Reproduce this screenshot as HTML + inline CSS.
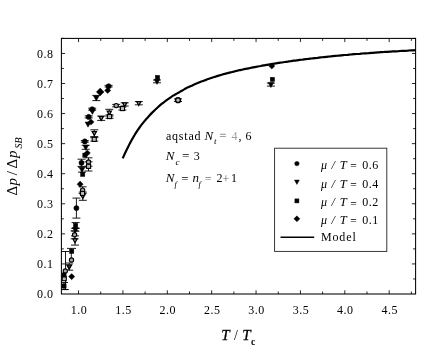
<!DOCTYPE html>
<html><head><meta charset="utf-8"><title>chart</title>
<style>html,body{margin:0;padding:0;background:#fff;overflow:hidden;width:436px;height:352px;}svg{display:block;}text{font-family:"Liberation Serif",serif;fill:#000;}</style>
</head><body>
<svg width="436" height="352" viewBox="0 0 436 352" style="will-change:transform">
<rect x="0" y="0" width="436" height="352" fill="#fff"/>
<path d="M78.55 294.0v-3.7 M78.55 38.4v3.7 M100.74 294.0v-2.5 M100.74 38.4v2.5 M122.92 294.0v-3.7 M122.92 38.4v3.7 M145.11 294.0v-2.5 M145.11 38.4v2.5 M167.30 294.0v-3.7 M167.30 38.4v3.7 M189.49 294.0v-2.5 M189.49 38.4v2.5 M211.68 294.0v-3.7 M211.68 38.4v3.7 M233.86 294.0v-2.5 M233.86 38.4v2.5 M256.05 294.0v-3.7 M256.05 38.4v3.7 M278.24 294.0v-2.5 M278.24 38.4v2.5 M300.43 294.0v-3.7 M300.43 38.4v3.7 M322.61 294.0v-2.5 M322.61 38.4v2.5 M344.80 294.0v-3.7 M344.80 38.4v3.7 M366.99 294.0v-2.5 M366.99 38.4v2.5 M389.18 294.0v-3.7 M389.18 38.4v3.7 M411.36 294.0v-2.5 M411.36 38.4v2.5 M61.4 278.96h2.5 M415.6 278.96h-2.5 M61.4 263.93h3.7 M415.6 263.93h-3.7 M61.4 248.89h2.5 M415.6 248.89h-2.5 M61.4 233.86h3.7 M415.6 233.86h-3.7 M61.4 218.82h2.5 M415.6 218.82h-2.5 M61.4 203.79h3.7 M415.6 203.79h-3.7 M61.4 188.75h2.5 M415.6 188.75h-2.5 M61.4 173.72h3.7 M415.6 173.72h-3.7 M61.4 158.69h2.5 M415.6 158.69h-2.5 M61.4 143.65h3.7 M415.6 143.65h-3.7 M61.4 128.62h2.5 M415.6 128.62h-2.5 M61.4 113.58h3.7 M415.6 113.58h-3.7 M61.4 98.54h2.5 M415.6 98.54h-2.5 M61.4 83.51h3.7 M415.6 83.51h-3.7 M61.4 68.47h2.5 M415.6 68.47h-2.5 M61.4 53.44h3.7 M415.6 53.44h-3.7 M61.4 38.40h2.5 M415.6 38.40h-2.5" stroke="#000" stroke-width="0.85" fill="none"/>
<rect x="61.4" y="38.4" width="354.20000000000005" height="255.6" fill="none" stroke="#000" stroke-width="1.05"/>
<text x="53.4" y="298.4" font-size="12" letter-spacing="0.5" text-anchor="end">0.0</text>
<text x="53.4" y="268.3" font-size="12" letter-spacing="0.5" text-anchor="end">0.1</text>
<text x="53.4" y="238.3" font-size="12" letter-spacing="0.5" text-anchor="end">0.2</text>
<text x="53.4" y="208.2" font-size="12" letter-spacing="0.5" text-anchor="end">0.3</text>
<text x="53.4" y="178.1" font-size="12" letter-spacing="0.5" text-anchor="end">0.4</text>
<text x="53.4" y="148.1" font-size="12" letter-spacing="0.5" text-anchor="end">0.5</text>
<text x="53.4" y="118.0" font-size="12" letter-spacing="0.5" text-anchor="end">0.6</text>
<text x="53.4" y="87.9" font-size="12" letter-spacing="0.5" text-anchor="end">0.7</text>
<text x="53.4" y="57.8" font-size="12" letter-spacing="0.5" text-anchor="end">0.8</text>
<text x="79.0" y="313.8" font-size="12" letter-spacing="0.5" text-anchor="middle">1.0</text>
<text x="123.4" y="313.8" font-size="12" letter-spacing="0.5" text-anchor="middle">1.5</text>
<text x="167.8" y="313.8" font-size="12" letter-spacing="0.5" text-anchor="middle">2.0</text>
<text x="212.2" y="313.8" font-size="12" letter-spacing="0.5" text-anchor="middle">2.5</text>
<text x="256.6" y="313.8" font-size="12" letter-spacing="0.5" text-anchor="middle">3.0</text>
<text x="300.9" y="313.8" font-size="12" letter-spacing="0.5" text-anchor="middle">3.5</text>
<text x="345.3" y="313.8" font-size="12" letter-spacing="0.5" text-anchor="middle">4.0</text>
<text x="389.7" y="313.8" font-size="12" letter-spacing="0.5" text-anchor="middle">4.5</text>
<text y="340" font-size="15"><tspan x="221.2" font-style="italic" stroke="#000" stroke-width="0.3">T</tspan><tspan x="233.9" font-size="14">/</tspan><tspan x="242.2" font-style="italic" stroke="#000" stroke-width="0.3">T</tspan><tspan x="251.0" font-size="9.6" dy="4.8" font-weight="bold">c</tspan></text>
<text transform="translate(17.2,195.6) rotate(-90)" font-size="15"><tspan x="0">&#916;</tspan><tspan x="10.2" font-style="italic">p</tspan><tspan x="20.4">/</tspan><tspan x="27">&#916;</tspan><tspan x="37.6" font-style="italic">p</tspan><tspan x="47" font-size="10" dy="5.2" font-style="italic">SB</tspan></text>
<path d="M122.7 158.4C123.2 157.3 124.7 153.9 125.7 151.8C126.7 149.7 127.7 147.7 128.7 145.7C129.7 143.8 130.7 141.8 131.7 140.0C132.7 138.2 133.7 136.4 134.7 134.8C135.7 133.1 136.7 131.6 137.7 130.1C138.7 128.7 139.7 127.3 140.7 125.9C141.7 124.6 142.7 123.3 143.7 122.1C144.7 120.9 145.7 119.7 146.7 118.6C147.7 117.4 148.7 116.3 149.7 115.2C150.7 114.1 151.7 113.1 152.7 112.1C153.7 111.1 154.7 110.1 155.7 109.2C156.7 108.3 157.7 107.4 158.7 106.5C159.7 105.6 160.7 104.8 161.7 103.9C162.7 103.1 163.7 102.3 164.7 101.6C165.7 100.8 166.7 100.1 167.7 99.4C168.7 98.7 169.7 98.0 170.7 97.3C171.7 96.6 172.7 96.0 173.7 95.4C174.7 94.8 175.7 94.2 176.7 93.6C177.7 93.0 178.7 92.4 179.7 91.9C180.7 91.3 181.7 90.7 182.7 90.2C183.7 89.6 184.7 89.1 185.7 88.5C186.7 88.0 187.7 87.5 188.7 87.1C189.7 86.6 190.7 86.1 191.7 85.7C192.7 85.2 193.7 84.8 194.7 84.3C195.7 83.9 196.7 83.5 197.7 83.1C198.7 82.6 199.7 82.2 200.7 81.8C201.7 81.4 202.7 81.1 203.7 80.7C204.7 80.3 205.7 79.9 206.7 79.6C207.7 79.2 208.7 78.9 209.7 78.5C210.7 78.2 211.7 77.8 212.7 77.5C213.7 77.2 214.7 76.9 215.7 76.6C216.7 76.2 217.7 75.9 218.7 75.6C219.7 75.3 220.7 75.0 221.7 74.7C222.7 74.4 223.7 74.1 224.7 73.9C225.7 73.6 226.7 73.3 227.7 73.1C228.7 72.8 229.7 72.5 230.7 72.3C231.7 72.1 232.7 71.8 233.7 71.6C234.7 71.3 235.7 71.1 236.7 70.9C237.7 70.6 238.7 70.4 239.7 70.2C240.7 70.0 241.7 69.7 242.7 69.5C243.7 69.3 244.7 69.1 245.7 68.9C246.7 68.7 247.7 68.5 248.7 68.3C249.7 68.1 250.7 67.9 251.7 67.7C252.7 67.5 253.7 67.3 254.7 67.1C255.7 66.9 256.7 66.7 257.7 66.5C258.7 66.3 259.7 66.1 260.7 66.0C261.7 65.8 262.7 65.6 263.7 65.4C264.7 65.2 265.7 65.1 266.7 64.9C267.7 64.7 268.7 64.6 269.7 64.4C270.7 64.2 271.7 64.1 272.7 63.9C273.7 63.7 274.7 63.6 275.7 63.4C276.7 63.2 277.7 63.1 278.7 62.9C279.7 62.8 280.7 62.6 281.7 62.5C282.7 62.3 283.7 62.2 284.7 62.0C285.7 61.9 286.7 61.7 287.7 61.6C288.7 61.4 289.7 61.3 290.7 61.2C291.7 61.0 292.7 60.9 293.7 60.7C294.7 60.6 295.7 60.5 296.7 60.3C297.7 60.2 298.7 60.1 299.7 59.9C300.7 59.8 301.7 59.7 302.7 59.6C303.7 59.4 304.7 59.3 305.7 59.2C306.7 59.1 307.7 58.9 308.7 58.8C309.7 58.7 310.7 58.6 311.7 58.5C312.7 58.3 313.7 58.2 314.7 58.1C315.7 58.0 316.7 57.9 317.7 57.8C318.7 57.6 319.7 57.5 320.7 57.4C321.7 57.3 322.7 57.2 323.7 57.1C324.7 57.0 325.7 56.9 326.7 56.8C327.7 56.7 328.7 56.6 329.7 56.5C330.7 56.4 331.7 56.3 332.7 56.2C333.7 56.1 334.7 56.0 335.7 55.9C336.7 55.8 337.7 55.7 338.7 55.6C339.7 55.5 340.7 55.4 341.7 55.3C342.7 55.2 343.7 55.1 344.7 55.0C345.7 54.9 346.7 54.8 347.7 54.8C348.7 54.7 349.7 54.6 350.7 54.5C351.7 54.4 352.7 54.3 353.7 54.2C354.7 54.2 355.7 54.1 356.7 54.0C357.7 53.9 358.7 53.8 359.7 53.8C360.7 53.7 361.7 53.6 362.7 53.5C363.7 53.4 364.7 53.4 365.7 53.3C366.7 53.2 367.7 53.1 368.7 53.1C369.7 53.0 370.7 52.9 371.7 52.8C372.7 52.8 373.7 52.7 374.7 52.6C375.7 52.6 376.7 52.5 377.7 52.4C378.7 52.3 379.7 52.3 380.7 52.2C381.7 52.1 382.7 52.1 383.7 52.0C384.7 51.9 385.7 51.9 386.7 51.8C387.7 51.8 388.7 51.7 389.7 51.6C390.7 51.6 391.7 51.5 392.7 51.4C393.7 51.4 394.7 51.3 395.7 51.3C396.7 51.2 397.7 51.1 398.7 51.1C399.7 51.0 400.7 51.0 401.7 50.9C402.7 50.9 403.7 50.8 404.7 50.8C405.7 50.7 406.7 50.6 407.7 50.6C408.7 50.5 409.7 50.5 410.7 50.4C411.7 50.4 412.9 50.3 413.7 50.3C414.5 50.2 415.3 50.2 415.6 50.2" stroke="#000" stroke-width="2.2" fill="none" stroke-linecap="butt"/>
<defs><clipPath id="pc"><rect x="61.4" y="38.4" width="354.20000000000005" height="255.6"/></clipPath></defs>
<g clip-path="url(#pc)">
<path d="M65.5 251.5V289.6M61.6 251.5h7.6M62 289.6h6.8M71.3 248.4V258M67 248.4h9" stroke="#000" stroke-width="0.9" fill="none"/>
<path d="M124.7 102.8V106.0M120.7 102.8h8.0M120.7 106.0h8.0" stroke="#000" stroke-width="0.9" fill="none"/>
<path d="M122.4 107.0V110.0M118.4 107.0h8.0M118.4 110.0h8.0" stroke="#000" stroke-width="0.9" fill="none"/>
<path d="M116.2 104.4V106.8M112.2 104.4h8.0M112.2 106.8h8.0" stroke="#000" stroke-width="0.9" fill="none"/>
<path d="M109.3 109.3V116.1M105.3 109.3h8.0M105.3 116.1h8.0" stroke="#000" stroke-width="0.9" fill="none"/>
<path d="M109.5 114.9V118.3M105.5 114.9h8.0M105.5 118.3h8.0" stroke="#000" stroke-width="0.9" fill="none"/>
<path d="M101.2 116.0V120.4M97.2 116.0h8.0M97.2 120.4h8.0" stroke="#000" stroke-width="0.9" fill="none"/>
<path d="M94.3 129.8V136.6M90.3 129.8h8.0M90.3 136.6h8.0" stroke="#000" stroke-width="0.9" fill="none"/>
<path d="M94.3 137.7V141.1M90.3 137.7h8.0M90.3 141.1h8.0" stroke="#000" stroke-width="0.9" fill="none"/>
<path d="M88.5 157.8V166.2M84.5 157.8h8.0M84.5 166.2h8.0" stroke="#000" stroke-width="0.9" fill="none"/>
<path d="M88.5 161.8V171.0M84.5 161.8h8.0M84.5 171.0h8.0" stroke="#000" stroke-width="0.9" fill="none"/>
<path d="M82.6 186.8V193.6M78.6 186.8h8.0M78.6 193.6h8.0" stroke="#000" stroke-width="0.9" fill="none"/>
<path d="M82.8 192.1V200.3M78.8 192.1h8.0M78.8 200.3h8.0" stroke="#000" stroke-width="0.9" fill="none"/>
<path d="M74.6 230.8V238.8M70.6 230.8h8.0M70.6 238.8h8.0" stroke="#000" stroke-width="0.9" fill="none"/>
<path d="M75 235.9V245.1M71.0 235.9h8.0M71.0 245.1h8.0" stroke="#000" stroke-width="0.9" fill="none"/>
<path d="M69.2 263.0V270.2M65.2 263.0h8.0M65.2 270.2h8.0" stroke="#000" stroke-width="0.9" fill="none"/>
<path d="M138.8 101.6V104.8M134.8 101.6h8.0M134.8 104.8h8.0" stroke="#000" stroke-width="0.9" fill="none"/>
<path d="M178.0 98.9V101.5M174.0 98.9h8.0M174.0 101.5h8.0" stroke="#000" stroke-width="0.9" fill="none"/>
<path d="M108.6 85.4V87.0M104.6 85.4h8.0M104.6 87.0h8.0" stroke="#000" stroke-width="0.9" fill="none"/>
<path d="M96.3 95.4V100.6M92.3 95.4h8.0M92.3 100.6h8.0" stroke="#000" stroke-width="0.9" fill="none"/>
<path d="M92.2 108.2V110.2M88.2 108.2h8.0M88.2 110.2h8.0" stroke="#000" stroke-width="0.9" fill="none"/>
<path d="M88.7 115.9V117.9M84.7 115.9h8.0M84.7 117.9h8.0" stroke="#000" stroke-width="0.9" fill="none"/>
<path d="M84.8 140.6V142.2M80.8 140.6h8.0M80.8 142.2h8.0" stroke="#000" stroke-width="0.9" fill="none"/>
<path d="M85.7 145.3V149.3M81.7 145.3h8.0M81.7 149.3h8.0" stroke="#000" stroke-width="0.9" fill="none"/>
<path d="M81.5 159.2V166.4M77.5 159.2h8.0M77.5 166.4h8.0" stroke="#000" stroke-width="0.9" fill="none"/>
<path d="M82 167.1V172.1M78.0 167.1h8.0M78.0 172.1h8.0" stroke="#000" stroke-width="0.9" fill="none"/>
<path d="M76.4 198.1V218.1M72.4 198.1h8.0M72.4 218.1h8.0" stroke="#000" stroke-width="0.9" fill="none"/>
<path d="M75.6 222.6V228.2M71.6 222.6h8.0M71.6 228.2h8.0" stroke="#000" stroke-width="0.9" fill="none"/>
<path d="M75.4 228.4V231.2M71.4 228.4h8.0M71.4 231.2h8.0" stroke="#000" stroke-width="0.9" fill="none"/>
<path d="M64.0 282.5V289.5M60.0 282.5h8.0M60.0 289.5h8.0" stroke="#000" stroke-width="0.9" fill="none"/>
<path d="M157.0 80.0V82.8M153.0 80.0h8.0M153.0 82.8h8.0" stroke="#000" stroke-width="0.9" fill="none"/>
<path d="M270.9 83.1V86.1M266.9 83.1h8.0M266.9 86.1h8.0" stroke="#000" stroke-width="0.9" fill="none"/>
<path d="M122.6 102.8H126.8L124.7 106.6Z" fill="#b8b8b8" stroke="#000" stroke-width="1.25"/>
<rect x="120.4" y="106.5" width="4.1" height="4.1" fill="#b8b8b8" stroke="#000" stroke-width="1.1"/>
<circle cx="116.2" cy="105.6" r="2.15" fill="#a8a8a8" stroke="#000" stroke-width="1.1"/>
<path d="M107.2 111.1H111.4L109.3 114.9Z" fill="#b8b8b8" stroke="#000" stroke-width="1.25"/>
<rect x="107.5" y="114.5" width="4.1" height="4.1" fill="#b8b8b8" stroke="#000" stroke-width="1.1"/>
<path d="M99.1 116.6H103.3L101.2 120.4Z" fill="#b8b8b8" stroke="#000" stroke-width="1.25"/>
<path d="M92.2 131.6H96.4L94.3 135.4Z" fill="#b8b8b8" stroke="#000" stroke-width="1.25"/>
<rect x="92.2" y="137.3" width="4.1" height="4.1" fill="#b8b8b8" stroke="#000" stroke-width="1.1"/>
<circle cx="88.5" cy="162.0" r="2.15" fill="#a8a8a8" stroke="#000" stroke-width="1.1"/>
<rect x="86.5" y="164.3" width="4.1" height="4.1" fill="#b8b8b8" stroke="#000" stroke-width="1.1"/>
<circle cx="82.6" cy="190.2" r="2.15" fill="#a8a8a8" stroke="#000" stroke-width="1.1"/>
<path d="M80.7 194.6H84.9L82.8 198.4Z" fill="#b8b8b8" stroke="#000" stroke-width="1.25"/>
<rect x="80.5" y="191.4" width="4.1" height="4.1" fill="#b8b8b8" stroke="#000" stroke-width="1.1"/>
<circle cx="74.6" cy="234.8" r="2.15" fill="#a8a8a8" stroke="#000" stroke-width="1.1"/>
<path d="M72.9 238.9H77.1L75.0 242.7Z" fill="#b8b8b8" stroke="#000" stroke-width="1.25"/>
<circle cx="71.5" cy="260.0" r="2.15" fill="#a8a8a8" stroke="#000" stroke-width="1.1"/>
<path d="M67.0 265.0H71.4L69.2 268.9Z" fill="#777" stroke="#000" stroke-width="1.6"/>
<circle cx="65.3" cy="271.0" r="2.15" fill="#a8a8a8" stroke="#000" stroke-width="1.1"/>
<rect x="62.2" y="276.6" width="4.1" height="4.1" fill="#b8b8b8" stroke="#000" stroke-width="1.1"/>
<path d="M136.7 101.6H140.9L138.8 105.4Z" fill="#b8b8b8" stroke="#000" stroke-width="1.25"/>
<circle cx="178.0" cy="100.2" r="2.4" fill="#bbb" stroke="#000" stroke-width="1.5"/>
<circle cx="108.6" cy="86.2" r="2.55" fill="#000" stroke="#000" stroke-width="0.5"/>
<path d="M104.6 90.4L107.7 87.3L110.8 90.4L107.7 93.5Z" fill="#000" stroke="#000" stroke-width="0.4"/>
<path d="M96.3 91.9L100.2 88.0L104.1 91.9L100.2 95.8Z" fill="#000" stroke="#000" stroke-width="0.4"/>
<path d="M93.4 95.8H99.2L96.3 101.0Z" fill="#000" stroke="#000" stroke-width="0.5"/>
<circle cx="92.2" cy="109.2" r="2.55" fill="#000" stroke="#000" stroke-width="0.5"/>
<path d="M89.5 109.2H95.3L92.4 114.4Z" fill="#000" stroke="#000" stroke-width="0.5"/>
<circle cx="88.7" cy="116.9" r="2.55" fill="#000" stroke="#000" stroke-width="0.5"/>
<path d="M87.9 122L91 118.9L94.1 122L91 125.1Z" fill="#000" stroke="#000" stroke-width="0.4"/>
<path d="M85.1 122.0H90.9L88.0 127.2Z" fill="#000" stroke="#000" stroke-width="0.5"/>
<circle cx="84.8" cy="141.4" r="2.55" fill="#000" stroke="#000" stroke-width="0.5"/>
<path d="M82.8 145.1H88.6L85.7 150.3Z" fill="#000" stroke="#000" stroke-width="0.5"/>
<path d="M84.2 153L87.3 149.9L90.4 153L87.3 156.1Z" fill="#000" stroke="#000" stroke-width="0.4"/>
<rect x="82.8" y="153.1" width="4.2" height="4.2" fill="#000" stroke="#000" stroke-width="0.5"/>
<circle cx="81.5" cy="162.8" r="2.55" fill="#000" stroke="#000" stroke-width="0.5"/>
<path d="M79.1 167.4H84.9L82.0 172.6Z" fill="#000" stroke="#000" stroke-width="0.5"/>
<rect x="80.6" y="172.2" width="4.2" height="4.2" fill="#000" stroke="#000" stroke-width="0.5"/>
<path d="M77.0 184.2L80.1 181.1L83.2 184.2L80.1 187.3Z" fill="#000" stroke="#000" stroke-width="0.4"/>
<circle cx="76.4" cy="208.1" r="2.55" fill="#000" stroke="#000" stroke-width="0.5"/>
<rect x="73.5" y="223.3" width="4.2" height="4.2" fill="#000" stroke="#000" stroke-width="0.5"/>
<path d="M72.5 227.6H78.3L75.4 232.8Z" fill="#000" stroke="#000" stroke-width="0.5"/>
<rect x="69.6" y="249.2" width="4.2" height="4.2" fill="#000" stroke="#000" stroke-width="0.5"/>
<path d="M68.6 276.6L71.7 273.5L74.8 276.6L71.7 279.7Z" fill="#000" stroke="#000" stroke-width="0.4"/>
<rect x="61.9" y="272.9" width="4.2" height="4.2" fill="#000" stroke="#000" stroke-width="0.5"/>
<rect x="61.9" y="283.9" width="4.2" height="4.2" fill="#000" stroke="#000" stroke-width="0.5"/>
<rect x="155.4" y="75.4" width="4.2" height="4.2" fill="#000" stroke="#000" stroke-width="0.5"/>
<path d="M154.1 79.2H159.9L157.0 84.4Z" fill="#000" stroke="#000" stroke-width="0.5"/>
<path d="M268.7 66L271.8 62.9L274.9 66L271.8 69.1Z" fill="#000" stroke="#000" stroke-width="0.4"/>
<rect x="270.3" y="77.3" width="4.2" height="4.2" fill="#000" stroke="#000" stroke-width="0.5"/>
<path d="M268.0 82.4H273.8L270.9 87.6Z" fill="#000" stroke="#000" stroke-width="0.5"/>
</g>
<text y="139.9" font-size="12" letter-spacing="0.5"><tspan x="165.9" letter-spacing="0.8">aqstad</tspan><tspan x="204.4" font-style="italic" font-size="13">N</tspan><tspan x="214" font-size="9" font-style="italic" dy="4">t</tspan><tspan x="219.6" dy="-4" font-size="12" fill="#a0a0a0" stroke="#a0a0a0" stroke-width="0.4">=</tspan><tspan x="231.4" fill="#a0a0a0">4</tspan><tspan x="238.4">,</tspan><tspan x="245.5">6</tspan></text>
<text y="159.5" font-size="12" letter-spacing="0.5"><tspan x="165.8" font-style="italic" font-size="13">N</tspan><tspan x="175.4" font-size="9.2" font-style="italic" dy="5">c</tspan><tspan x="182.1" dy="-5" font-size="12" textLength="8" lengthAdjust="spacingAndGlyphs">=</tspan><tspan x="193.8">3</tspan></text>
<text y="182.0" font-size="12" letter-spacing="0.5"><tspan x="165.8" font-style="italic" font-size="13">N</tspan><tspan x="174.6" font-size="8.4" font-style="italic" dy="4.6">f</tspan><tspan x="181.3" dy="-4.1" font-size="12" textLength="7.7" lengthAdjust="spacingAndGlyphs">=</tspan><tspan x="192.6" dy="-0.5" font-style="italic" font-size="13">n</tspan><tspan x="198.4" font-size="8.4" font-style="italic" dy="4.6">f</tspan><tspan x="204.8" dy="-3.5" font-size="12" fill="#777">=</tspan><tspan x="216.5" dy="-1.1">2</tspan><tspan x="222.4" dy="1.3" fill="#666">+</tspan><tspan x="231" dy="-1.3">1</tspan></text>
<rect x="274.6" y="148.2" width="112.2" height="103.2" fill="#fff" stroke="#222" stroke-width="0.9"/>
<circle cx="296.9" cy="163.6" r="2.2" fill="#000" stroke="#000" stroke-width="0.5"/>
<text y="168.8" font-size="12" letter-spacing="0.5"><tspan x="321" font-style="italic">&#956;</tspan><tspan x="331.6" font-style="italic">/</tspan><tspan x="339.8" font-style="italic" font-size="12.5">T</tspan><tspan x="350.3" dy="1.3" font-size="12" textLength="7" lengthAdjust="spacingAndGlyphs">=</tspan><tspan x="362.2" dy="-1.3">0.6</tspan></text>
<path d="M294.5 180.1H299.3L296.9 184.4Z" fill="#000" stroke="#000" stroke-width="0.5"/>
<text y="187.9" font-size="12" letter-spacing="0.5"><tspan x="321" font-style="italic">&#956;</tspan><tspan x="331.6" font-style="italic">/</tspan><tspan x="339.8" font-style="italic" font-size="12.5">T</tspan><tspan x="350.3" dy="1.3" font-size="12" textLength="7" lengthAdjust="spacingAndGlyphs">=</tspan><tspan x="362.2" dy="-1.3">0.4</tspan></text>
<rect x="294.9" y="198.9" width="4.0" height="4.0" fill="#000" stroke="#000" stroke-width="0.5"/>
<text y="206.2" font-size="12" letter-spacing="0.5"><tspan x="321" font-style="italic">&#956;</tspan><tspan x="331.6" font-style="italic">/</tspan><tspan x="339.8" font-style="italic" font-size="12.5">T</tspan><tspan x="350.3" dy="1.3" font-size="12" textLength="7" lengthAdjust="spacingAndGlyphs">=</tspan><tspan x="362.2" dy="-1.3">0.2</tspan></text>
<path d="M293.9 218.8L296.9 215.8L299.9 218.8L296.9 221.8Z" fill="#000" stroke="#000" stroke-width="0.4"/>
<text y="224.0" font-size="12" letter-spacing="0.5"><tspan x="321" font-style="italic">&#956;</tspan><tspan x="331.6" font-style="italic">/</tspan><tspan x="339.8" font-style="italic" font-size="12.5">T</tspan><tspan x="350.3" dy="1.3" font-size="12" textLength="7" lengthAdjust="spacingAndGlyphs">=</tspan><tspan x="362.2" dy="-1.3">0.1</tspan></text>
<path d="M280.5 237.3H314.2" stroke="#000" stroke-width="1.6"/>
<text x="321" y="240.8" font-size="12" letter-spacing="0.85">Model</text>
</svg></body></html>
